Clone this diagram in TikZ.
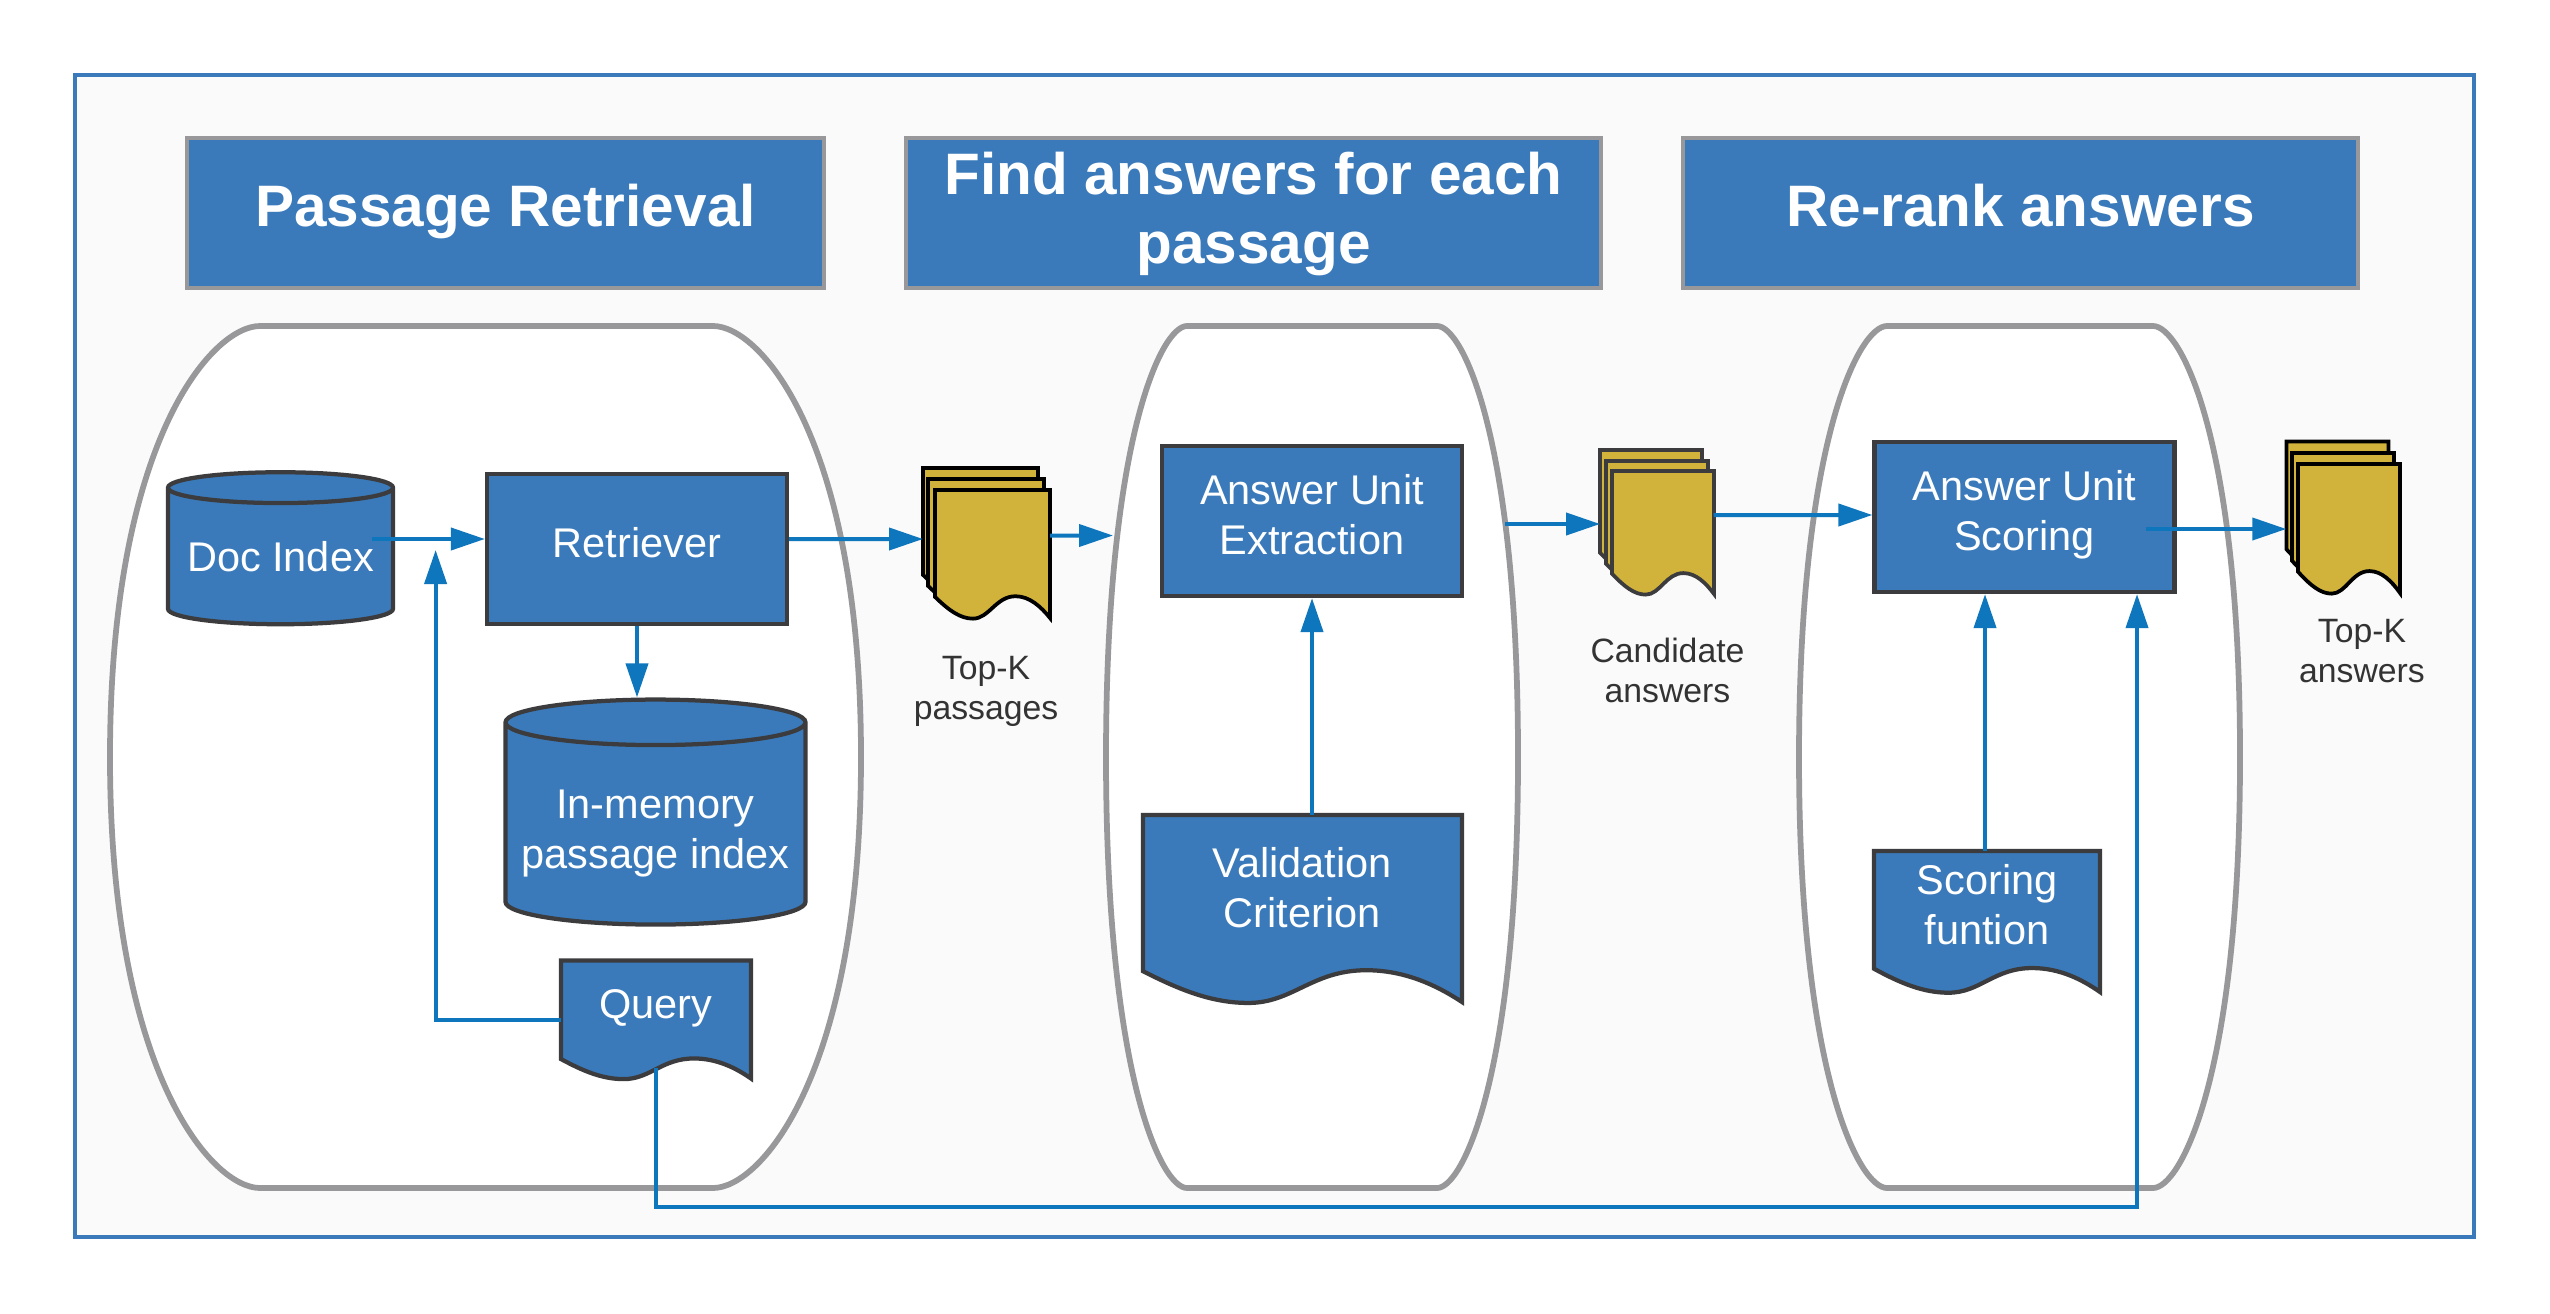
\documentclass[tikz,border=0pt]{standalone}
\usepackage{fontspec}
\setmainfont{Liberation Sans}
\usetikzlibrary{arrows.meta,shapes.geometric}

\definecolor{blockblue}{HTML}{3A7ABA}
\definecolor{flowblue}{HTML}{0E76BD}
\definecolor{edgegrey}{HTML}{98989A}
\definecolor{edgedark}{HTML}{3C3C3E}
\definecolor{pagegold}{HTML}{D1B33C}
\definecolor{panelgrey}{HTML}{FAFAFA}
\definecolor{labelgrey}{HTML}{333333}

% one sheet with a wavy lower edge: left, top, width, height, style
\newcommand{\docshape}[5]{
    \draw[#5,shift={(#1,#2)},xscale=#3,yscale=#4] (0,0) -- (1,0) -- (1,1)
        .. controls (.92,.91) and (.82,.83) .. (.70,.83)
        .. controls (.53,.83) and (.47,1.005) .. (.33,1.005)
        .. controls (.22,1.005) and (.12,.94) .. (0,.835) -- cycle;
}

\tikzset{
    header/.style={rectangle,fill=blockblue,draw=edgegrey,line width=1.6pt,text=white,align=center,inner sep=0pt,font=\fontsize{23.4}{27.8}\selectfont\bfseries},
    block/.style={rectangle,fill=blockblue,draw=edgedark,line width=1.7pt,text=white,align=center,inner sep=0pt,minimum width=120pt,minimum height=60pt,text depth=5.2pt,font=\fontsize{16.6}{20}\selectfont},
    store/.style={cylinder,shape border rotate=90,fill=blockblue,draw=edgedark,line width=1.7pt,text=white,align=center,inner sep=0pt,font=\fontsize{16.6}{20}\selectfont},
    doctext/.style={text=white,align=center,inner sep=0pt,font=\fontsize{16.6}{20}\selectfont},
    sheet/.style={fill=blockblue,draw=edgedark,line width=1.7pt},
    goldsheet/.style={fill=pagegold,draw=black,line width=1.5pt},
    darksheet/.style={fill=pagegold,draw=edgedark,line width=1.5pt},
    stack/.style={inner sep=0pt,outer sep=0pt},
    toplabel/.style={text=labelgrey,align=center,inner sep=0pt,font=\fontsize{13.5}{16}\selectfont},
    flow/.style={->,>={Triangle[length=13.6pt,width=8.8pt]},draw=flowblue,line width=1.6pt},
}

\begin{document}
\begin{tikzpicture}[x=0.4pt,y=-0.4pt]
    \useasboundingbox (0,0) rectangle (2550,1313);
    \draw[fill=panelgrey,draw=blockblue,line width=1.4pt] (75,75) rectangle (2474,1237);

    % the three rounded panels
    \foreach \xl/\xa/\xb/\xr/\c in {110/260/713/861/48,1106/1187/1437/1518/26,1799/1887/2153/2240/28}{
        \draw[fill=white,draw=edgegrey,line width=2.3pt] (\xa,326) -- (\xb,326)
            .. controls (\xb+\c,326) and (\xr,441) .. (\xr,757)
            .. controls (\xr,1073) and (\xb+\c,1188) .. (\xb,1188) -- (\xa,1188)
            .. controls (\xa-\c,1188) and (\xl,1073) .. (\xl,757)
            .. controls (\xl,441) and (\xa-\c,326) .. (\xa,326) -- cycle;
    }

    \node[header,minimum width=254.8pt,minimum height=60pt] (passagehead) at (505.5,213) {Passage Retrieval\strut};
    \node[header,minimum width=277.8pt,minimum height=60pt,text depth=4.3pt] (answershead) at (1253.5,213) {Find answers for each\\passage};
    \node[header,minimum width=270pt,minimum height=60pt] (rerankhead) at (2020.5,213) {Re-rank answers\strut};

    % first panel
    \node[store,minimum width=90pt,minimum height=60.8pt,aspect=0.165] (docindex) at (280.5,557) {Doc Index};
    \node[block] (retriever) at (637,549) {Retriever};
    \node[store,minimum width=120pt,minimum height=90pt,aspect=0.17] (memindex) at (655.5,824.5) {\rule{0pt}{19pt}In-memory\\passage index};
    \docshape{561}{960.5}{190}{118}{sheet}
    \node[doctext,minimum width=76pt] (query) at (656,1008) {Query};

    % sheets between the panels
    \docshape{923}{468}{115}{128}{goldsheet}
    \docshape{928}{479}{116}{128}{goldsheet}
    \docshape{935}{490}{115}{128}{goldsheet}
    \node[stack,minimum width=50.8pt,minimum height=60.8pt] (passagestack) at (986.5,544) {};
    \node[toplabel] (passagelabel) at (986,691) {Top-K\\passages};

    \node[block] (extraction) at (1312,521) {Answer Unit\\Extraction};
    \docshape{1143}{815}{319}{187}{sheet}
    \node[doctext,minimum width=127.6pt] (validation) at (1302,888) {Validation\\Criterion};

    \docshape{1600}{450}{102}{123}{darksheet}
    \docshape{1606}{461}{102}{123}{darksheet}
    \docshape{1612}{471}{102}{123}{darksheet}
    \node[stack,minimum width=45.4pt,minimum height=58.4pt] (candidatestack) at (1656.8,523) {};
    \node[toplabel] (candidatelabel) at (1667.5,670) {Candidate\\answers};

    \node[block] (scoring) at (2024.5,517) {Answer Unit\\Scoring};
    \docshape{1874}{851}{226}{141}{sheet}
    \node[doctext,minimum width=90.4pt] (scoringdoc) at (1987,905) {Scoring\\funtion};

    \docshape{2286.5}{441.6}{102}{129}{goldsheet}
    \docshape{2292}{453}{102}{129}{goldsheet}
    \docshape{2298}{464}{102}{129}{goldsheet}
    \node[stack,minimum width=45.4pt,minimum height=61.8pt] (answerstack) at (2343,519) {};
    \node[toplabel] (answerlabel) at (2362,651.5) {Top-K\\answers};

    % free ends of connectors
    \coordinate (docout) at (372,539);
    \coordinate (querybot) at (656,1068);
    \coordinate (busright) at (2137,1207);
    \coordinate (paneltwoin) at (1113,535.5);
    \coordinate (paneltwoout) at (1505,524);
    \coordinate (validationtop) at (1312,815);
    \coordinate (scoringtop) at (1985,851);
    \coordinate (scoringout) at (2145.5,529);

    \draw[flow] (docout) -- (docout -| retriever.west);
    \draw[flow] ([yshift=-4.8pt]query.west) -| (435.6,550);
    \draw[flow] (retriever.south) -- (memindex.north -| retriever.south);
    \draw[flow] ([yshift=4pt]retriever.east) -- ([yshift=2pt]passagestack.west);
    \draw[flow] ([yshift=3.4pt]passagestack.east) -- (paneltwoin);
    \draw[flow] (validationtop) -- (extraction.south);
    \draw[flow] (paneltwoout) -- (paneltwoout -| candidatestack.west);
    \draw[flow] ([yshift=3.2pt]candidatestack.east) -- ([yshift=0.8pt]scoring.west);
    \draw[flow] (scoringtop) -- (scoringtop |- scoring.south);
    \draw[flow] (scoringout) -- (scoringout -| answerstack.west);
    \draw[flow] (querybot) |- (busright) -- (busright |- scoring.south);
\end{tikzpicture}
\end{document}
